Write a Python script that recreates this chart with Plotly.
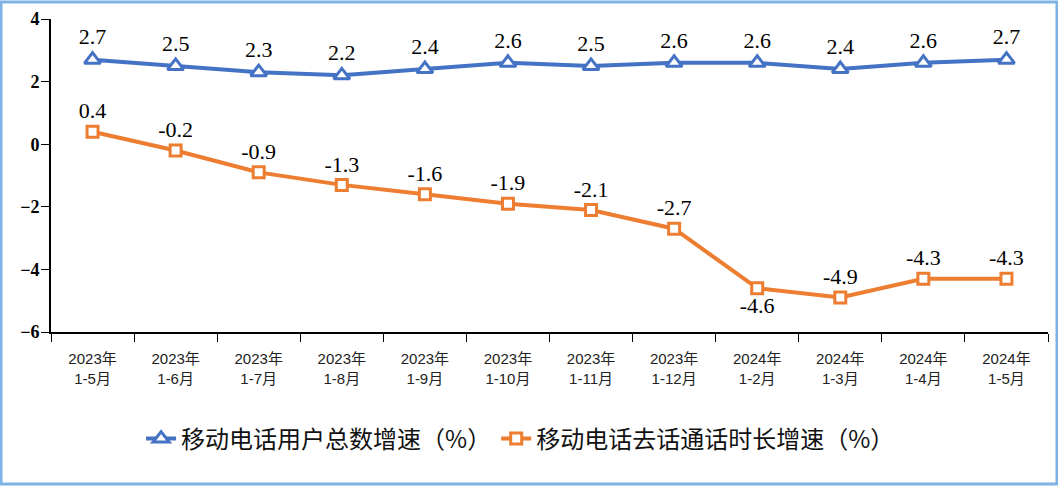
import plotly.graph_objects as go

categories = ["2023年<br>1-5月", "2023年<br>1-6月", "2023年<br>1-7月", "2023年<br>1-8月",
              "2023年<br>1-9月", "2023年<br>1-10月", "2023年<br>1-11月", "2023年<br>1-12月",
              "2024年<br>1-2月", "2024年<br>1-3月", "2024年<br>1-4月", "2024年<br>1-5月"]
users_growth = [2.7, 2.5, 2.3, 2.2, 2.4, 2.6, 2.5, 2.6, 2.6, 2.4, 2.6, 2.7]
call_growth = [0.4, -0.2, -0.9, -1.3, -1.6, -1.9, -2.1, -2.7, -4.6, -4.9, -4.3, -4.3]
series_names = ["移动电话用户总数增速（%）", "移动电话去话通话时长增速（%）"]
y_ticks = [-6, -4, -2, 0, 2, 4]

BLUE = "#4472C4"
ORANGE = "#ED7D31"
label_font = dict(family="Liberation Serif, Times New Roman, serif", size=22, color="#000000")

fig = go.Figure()
fig.add_trace(go.Scatter(
    x=categories, y=users_growth, name=series_names[0], mode="lines+markers+text",
    line=dict(color=BLUE, width=4),
    marker=dict(symbol="triangle-up", size=14, color="white", line=dict(color=BLUE, width=3)),
    text=[f"{v:.1f}" for v in users_growth], textposition="top center",
    textfont=label_font, cliponaxis=False,
))
pos = ["top center"] * len(call_growth)
pos[8] = "bottom center"
fig.add_trace(go.Scatter(
    x=categories, y=call_growth, name=series_names[1], mode="lines+markers+text",
    line=dict(color=ORANGE, width=4),
    marker=dict(symbol="square", size=11, color="white", line=dict(color=ORANGE, width=3)),
    text=[f"{v:.1f}" for v in call_growth], textposition=pos,
    textfont=label_font, cliponaxis=False,
))

fig.update_layout(
    width=1058, height=486,
    margin=dict(l=51, r=10, t=19, b=154),
    paper_bgcolor="white", plot_bgcolor="white",
    showlegend=True,
    legend=dict(orientation="h", x=0.471, xanchor="center", y=-0.27, yanchor="top",
                font=dict(family="Noto Sans CJK SC, sans-serif", size=24, color="#111111"),
                itemwidth=30, tracegroupgap=0),
    xaxis=dict(
        type="category", showgrid=False, showline=True, linecolor="black", linewidth=2,
        ticks="outside", tickson="boundaries", ticklen=8, tickcolor="black", tickwidth=1,
        ticklabelstandoff=12,
        tickfont=dict(family="Liberation Sans, Noto Sans CJK SC, sans-serif", size=15, color="#222222"),
        range=[-0.5, 11.5], automargin=False,
    ),
    yaxis=dict(
        range=[-6, 4], tickvals=y_ticks, showgrid=False, zeroline=False,
        showline=True, linecolor="black", linewidth=2,
        ticks="outside", ticklen=8, tickcolor="black", tickwidth=1,
        ticklabelstandoff=-2, automargin=False,
        tickfont=dict(family="Liberation Serif, serif", size=18,
                      color="black", weight="bold"),
    ),
    shapes=[dict(type="rect", xref="paper", yref="paper",
                 x0=-50/997, x1=1006/997, y0=-152/313, y1=330/313,
                 line=dict(color="#7FB2E5", width=3), fillcolor="rgba(0,0,0,0)", layer="below")],
)

fig.write_html("out.html", config={"displayModeBar": False},
               post_script="document.body.style.margin='0';")
